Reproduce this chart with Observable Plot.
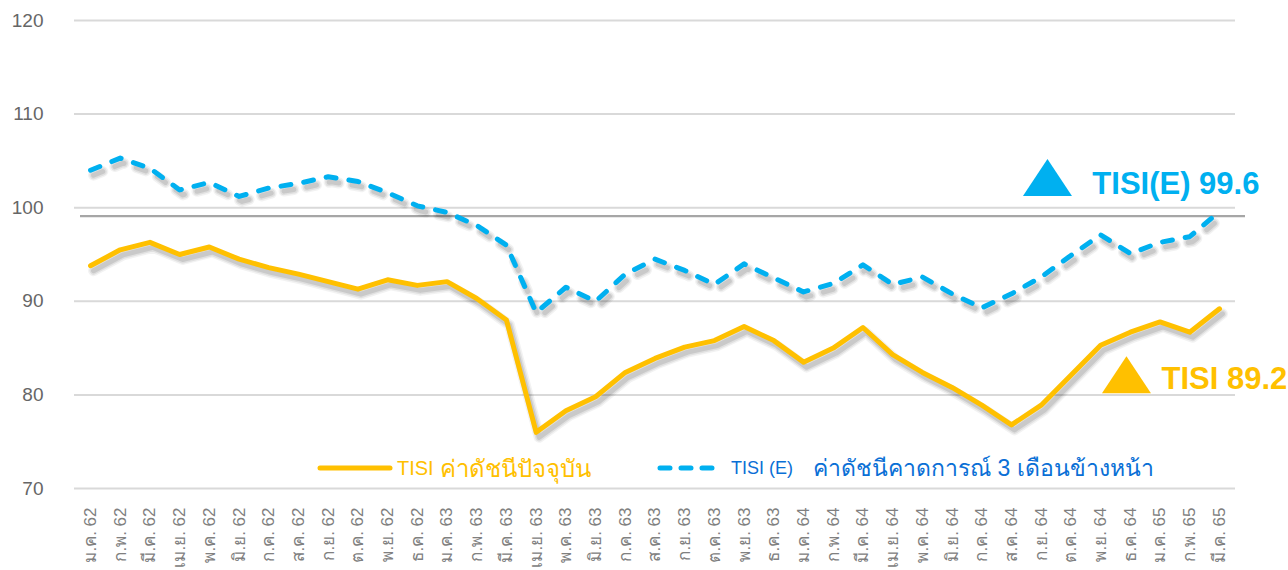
<!DOCTYPE html>
<html>
<head>
<meta charset="utf-8">
<script src="https://cdn.jsdelivr.net/npm/d3@7"></script>
<script src="https://cdn.jsdelivr.net/npm/@observablehq/plot@0.6"></script>
<style>
  html, body { margin: 0; padding: 0; background: #fff; }
  #wrap { position: relative; width: 1288px; height: 570px; overflow: hidden; font-family: "Liberation Sans", Arial, "Noto Sans", sans-serif; }
  #legend { position: absolute; left: 0; top: 0; width: 1288px; height: 570px; pointer-events: none; }
  .lg { position: absolute; top: 453px; height: 30px; display: flex; align-items: center; white-space: nowrap; }
</style>
</head>
<body>
<div id="wrap">
  <div id="chart"></div>
  <div id="legend"></div>
</div>
<script>
// ---- data ----
const months = [
  "ม.ค. 62","ก.พ. 62","มี.ค. 62","เม.ย. 62","พ.ค. 62","มิ.ย. 62","ก.ค. 62","ส.ค. 62","ก.ย. 62","ต.ค. 62","พ.ย. 62","ธ.ค. 62",
  "ม.ค. 63","ก.พ. 63","มี.ค. 63","เม.ย. 63","พ.ค. 63","มิ.ย. 63","ก.ค. 63","ส.ค. 63","ก.ย. 63","ต.ค. 63","พ.ย. 63","ธ.ค. 63",
  "ม.ค. 64","ก.พ. 64","มี.ค. 64","เม.ย. 64","พ.ค. 64","มิ.ย. 64","ก.ค. 64","ส.ค. 64","ก.ย. 64","ต.ค. 64","พ.ย. 64","ธ.ค. 64",
  "ม.ค. 65","ก.พ. 65","มี.ค. 65"
];
const tisi = [
  93.8, 95.5, 96.3, 95.0, 95.8, 94.5, 93.6, 92.9, 92.1, 91.3, 92.3, 91.7,
  92.1, 90.3, 88.0, 76.0, 78.3, 79.8, 82.4, 83.9, 85.1, 85.8, 87.3, 85.8,
  83.5, 85.0, 87.2, 84.3, 82.4, 80.8, 78.9, 76.8, 78.9, 82.1, 85.3, 86.7,
  87.8, 86.7, 89.2
];
const tisiE = [
  104.0, 105.3, 104.2, 101.9, 102.7, 101.2, 102.1, 102.6, 103.3, 102.8, 101.6, 100.2,
  99.5, 98.1, 96.0, 88.8, 91.5, 90.0, 92.9, 94.5, 93.3, 91.8, 94.0, 92.5,
  91.0, 91.9, 93.9, 91.8, 92.6, 90.8, 89.3, 90.8, 92.6, 94.9, 97.1, 95.1,
  96.3, 96.9, 99.6
];
const yTicks = [70, 80, 90, 100, 110, 120];
const refLine = 99.1;
const legendTisi = ["TISI", "ค่าดัชนีปัจจุบัน"];
const legendTisiE = ["TISI (E)", "ค่าดัชนีคาดการณ์ 3 เดือนข้างหน้า"];

const cOrange = "#FFC000";
const cBlue = "#00B0F0";
const cLegendBlue = "#0a6fd6";

const rowsA = months.map((m, i) => ({m, v: tisi[i]}));
const rowsE = months.map((m, i) => ({m, v: tisiE[i]}));
const lastA = rowsA[rowsA.length - 1];
const lastE = rowsE[rowsE.length - 1];

// isosceles triangle symbol centred on its bounding box
const tri = {
  draw(ctx, size) {
    const a = Math.sqrt(size / Math.PI);
    ctx.moveTo(0, -1.32 * a);
    ctx.lineTo(1.75 * a, 1.32 * a);
    ctx.lineTo(-1.75 * a, 1.32 * a);
    ctx.closePath();
  }
};

const font = "'Liberation Sans', Arial, 'Noto Sans', sans-serif";
// soft drop shadow built from a few stacked, offset translucent strokes
const shadowLayers = [
  {strokeWidth: 11, strokeOpacity: 0.05},
  {strokeWidth: 8, strokeOpacity: 0.07},
  {strokeWidth: 5, strokeOpacity: 0.10}
];
const shadowMarks = (rows, extra) => shadowLayers.map(s =>
  Plot.line(rows, {x: "m", y: "v", stroke: "#000", ...s, dx: 3, dy: 5, strokeLinejoin: "round", ...extra}));

const plot = Plot.plot({
  width: 1288,
  height: 570,
  marginLeft: 74,
  marginRight: 53,
  marginTop: 20,
  marginBottom: 82,
  style: {fontFamily: font, background: "transparent", overflow: "visible"},
  x: {type: "point", domain: months, padding: 0.54, round: false},
  y: {domain: [70, 120]},
  marks: [
    Plot.ruleY(yTicks, {stroke: "#d9d9d9", strokeWidth: 2}),
    Plot.ruleY([refLine], {stroke: "#a6a6a6", strokeWidth: 2.2, insetLeft: 6, insetRight: -10}),
    Plot.axisY({ticks: yTicks, tickSize: 0, tickPadding: 31, fontSize: 19, fill: "#666666", tickFormat: d => String(d), label: null}),
    Plot.axisX({tickSize: 0, tickPadding: 19, tickRotate: -90, fontSize: 17, fill: "#808080", label: null}),
    ...shadowMarks(rowsE, {strokeDasharray: "10,13", strokeLinecap: "round"}),
    ...shadowMarks(rowsA, {}),
    Plot.line(rowsE, {x: "m", y: "v", stroke: cBlue, strokeWidth: 5, strokeDasharray: "10,13", strokeLinecap: "round", strokeLinejoin: "round"}),
    Plot.line(rowsA, {x: "m", y: "v", stroke: cOrange, strokeWidth: 5, strokeLinejoin: "round"}),
    Plot.dot([lastE], {x: "m", y: "v", symbol: tri, r: 14, fill: cBlue, stroke: "none", dx: -172, dy: -34}),
    Plot.dot([lastA], {x: "m", y: "v", symbol: tri, r: 14, fill: cOrange, stroke: "none", dx: -93, dy: 66}),
    Plot.text([lastE], {x: "m", y: "v", text: d => `TISI(E) ${d.v.toFixed(1)}`, fill: cBlue, fontSize: 31, fontWeight: "bold", textAnchor: "end", lineAnchor: "middle", dx: 40, dy: -27}),
    Plot.text([lastA], {x: "m", y: "v", text: d => `TISI ${d.v.toFixed(1)}`, fill: cOrange, fontSize: 31, fontWeight: "bold", textAnchor: "start", lineAnchor: "middle", dx: -58, dy: 70})
  ]
});
document.getElementById("chart").appendChild(plot);

// ---- legend ----
const legend = document.getElementById("legend");
legend.innerHTML = `
  <div class="lg" style="left:316px;">
    <svg width="78" height="12"><line x1="4" y1="6" x2="74" y2="6" stroke="${cOrange}" stroke-width="5" stroke-linecap="round"/></svg>
    <span style="color:${cOrange};font-size:20px;margin-left:3px;">${legendTisi[0]}</span>
    <span style="color:${cOrange};font-size:24px;margin-left:6px;">${legendTisi[1]}</span>
  </div>
  <div class="lg" style="left:655px;">
    <svg width="64" height="12"><line x1="5" y1="6" x2="60" y2="6" stroke="${cBlue}" stroke-width="5" stroke-linecap="round" stroke-dasharray="10,11"/></svg>
    <span style="color:${cLegendBlue};font-size:18px;margin-left:12px;">${legendTisiE[0]}</span>
    <span style="color:${cLegendBlue};font-size:23px;margin-left:20px;">${legendTisiE[1]}</span>
  </div>`;
</script>
</body>
</html>
